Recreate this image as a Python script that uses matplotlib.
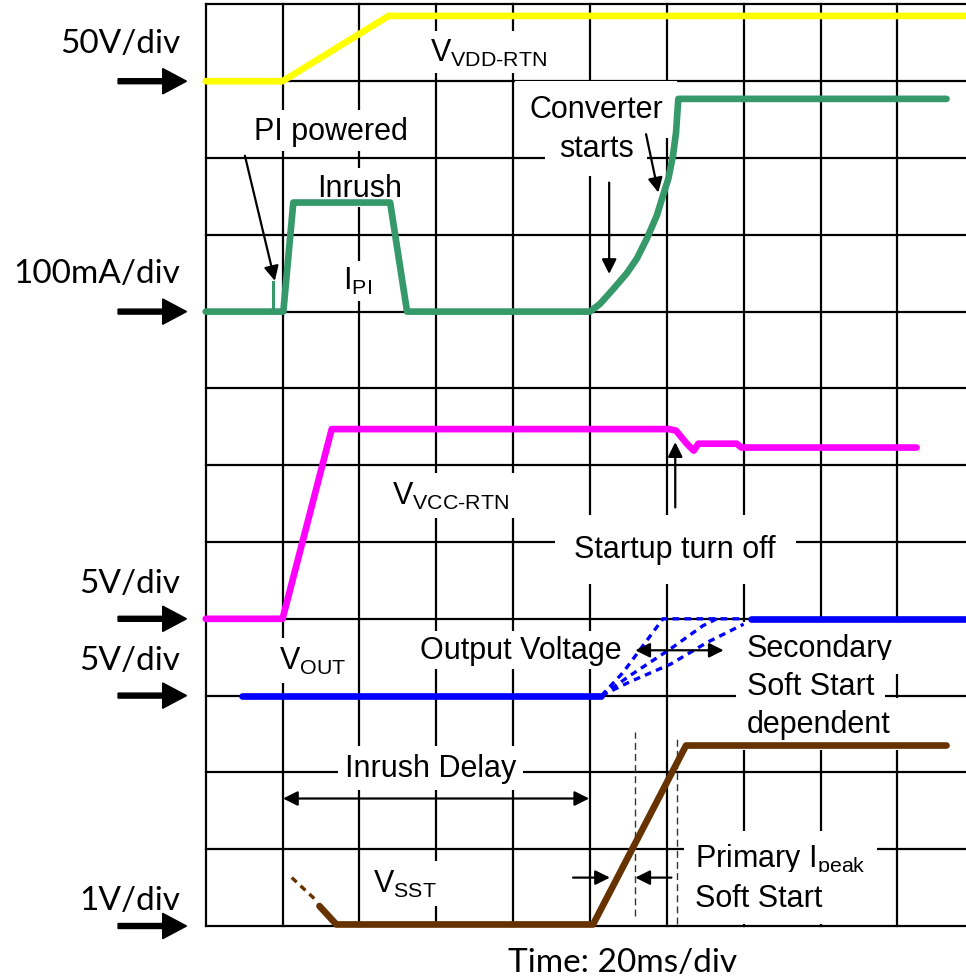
import matplotlib.pyplot as plt

# === Scope screen: 10 time divisions x 12 vertical divisions ===
n_xdiv = 10
n_ydiv = 12

# channel scale labels and their zero-level markers (in divisions)
ch_labels = ['50V/div', '100mA/div', '5V/div', '5V/div', '1V/div']
ch_zero = [11.0, 8.0, 4.0, 3.0, 0.0]
ch_label_y = [11.38, 8.385, 4.35, 3.35, 0.22]

# V_VDD-RTN (yellow)
vdd_t = [0.0, 1.0, 2.38, 10.2]
vdd_v = [11.0, 11.0, 11.85, 11.85]

# I_PI (green)
ipi_t = [0.0, 1.01, 1.14, 2.40, 2.62, 5.0, 5.13, 5.30, 5.48, 5.61, 5.74, 5.87, 5.95,
         6.02, 6.08, 6.12, 6.14, 6.15, 9.64]
ipi_v = [8.0, 8.0, 9.42, 9.42, 8.0, 8.0, 8.10, 8.29, 8.50, 8.69, 8.95, 9.25, 9.51,
         9.73, 10.03, 10.33, 10.63, 10.77, 10.77]
spike_t = [0.88, 0.88]
spike_v = [8.0, 8.39]

# V_VCC-RTN (magenta)
vcc_t = [0.0, 1.0, 1.64, 6.03, 6.12, 6.26, 6.35, 6.41, 6.91, 6.97, 9.25]
vcc_v = [4.0, 4.0, 6.47, 6.47, 6.45, 6.28, 6.19, 6.28, 6.28, 6.23, 6.23]

# V_OUT (blue): solid before / after, dashed soft-start variants
vout_t = [0.47, 5.15]
vout_v = [3.0, 3.0]
vout_end_t = [7.10, 10.2]
vout_end_v = [4.0, 4.0]
ss_fast_t = [5.15, 5.43, 5.69, 5.95, 6.99]
ss_fast_v = [3.0, 3.30, 3.65, 4.0, 4.0]
ss_mid_t = [5.15, 5.52, 6.05, 6.47, 6.65]
ss_mid_v = [3.0, 3.26, 3.61, 3.91, 4.0]
ss_slow_t = [5.15, 5.52, 6.05, 6.52, 7.0]
ss_slow_v = [3.0, 3.18, 3.41, 3.69, 3.93]

# V_SST (brown)
sst_pre_t = [1.12, 1.42]
sst_pre_v = [0.63, 0.35]
sst_t = [1.48, 1.70, 5.04, 6.25, 9.64]
sst_v = [0.26, 0.02, 0.02, 2.35, 2.35]

# primary soft start window markers
mark_t = [5.59, 6.13]
mark_lo = [0.13, 0.02]
mark_hi = [2.53, 2.46]

YELLOW = '#ffff00'
GREEN = '#35996a'
MAGENTA = '#ff00ff'
BLUE = '#0000ff'
BROWN = '#663300'

plt.rcParams['mathtext.fontset'] = 'custom'
plt.rcParams['mathtext.rm'] = 'Liberation Sans'
plt.rcParams['mathtext.it'] = 'Liberation Sans:italic'
plt.rcParams['mathtext.bf'] = 'Liberation Sans:bold'

fig = plt.figure(figsize=(9.66, 9.78), dpi=100)
ax = fig.add_axes([0, 0, 1, 1])
ax.set_xlim(-205.7 / 76.85, (966 - 205.7) / 76.85)
ax.set_ylim(-(978 - 927) / 76.8, 927 / 76.8)
ax.axis('off')

# grid
for i in range(n_xdiv + 1):
    ax.plot([i, i], [0, n_ydiv], color='black', lw=1.6, zorder=1, solid_capstyle='projecting')
for j in range(n_ydiv + 1):
    ax.plot([0, n_xdiv], [j, j], color='black', lw=1.6, zorder=1, solid_capstyle='projecting')

# traces
tr = dict(lw=4.8, solid_capstyle='round', solid_joinstyle='round', zorder=3)
ax.plot(vdd_t, vdd_v, color=YELLOW, **tr)
ax.plot(ipi_t, ipi_v, color=GREEN, **tr)
ax.plot(spike_t, spike_v, color=GREEN, lw=2.2, zorder=3)
ax.plot(vcc_t, vcc_v, color=MAGENTA, **tr)
ax.plot(vout_t, vout_v, color=BLUE, **tr)
ax.plot(vout_end_t, vout_end_v, color=BLUE, **tr)
for t, v in [(ss_fast_t, ss_fast_v), (ss_mid_t, ss_mid_v), (ss_slow_t, ss_slow_v)]:
    ax.plot(t, v, color=BLUE, lw=2.4, ls=(0, (2.0, 1.6)), zorder=3)
ax.plot(sst_pre_t, sst_pre_v, color=BROWN, lw=2.4, ls=(0, (2.0, 1.6)), zorder=3)
ax.plot(sst_t, sst_v, color=BROWN, **tr)
for t, lo, hi in zip(mark_t, mark_lo, mark_hi):
    ax.plot([t, t], [lo, hi], color='#333333', lw=1.0, ls=(0, (5, 3)), zorder=2)

# channel markers on the left
for lab, z, ly in zip(ch_labels, ch_zero, ch_label_y):
    ax.arrow(-1.14, z, 0.89, 0, width=0.065, head_width=0.33, head_length=0.31,
             length_includes_head=True, color='black', zorder=4)
    ax.text(-0.33, ly, lab, family='Lato', fontsize=24, ha='right', va='baseline')
ax.text(5.43, -0.586, 'Time: 20ms/div', family='Lato', fontsize=24, ha='center', va='baseline')


def label(x, y, s, ha='left', pad=4):
    ax.text(x, y, s, family='Liberation Sans', fontsize=22, ha=ha, va='baseline', zorder=2,
            bbox=dict(facecolor='white', edgecolor='none', pad=pad))


label(2.92, 11.27, r'V$_{\text{VDD-RTN}}$', pad=4)
label(1.63, 10.25, 'PI powered', ha='center', pad=4)
label(2.0, 9.51, 'Inrush', ha='center', pad=3)
label(1.79, 8.29, r'I$_{\text{PI}}$', pad=3)
label(5.08, 10.53, 'Converter', ha='center', pad=10)
label(5.08, 10.03, 'starts', ha='center', pad=10)
label(2.42, 5.49, r'V$_{\text{VCC-RTN}}$', pad=5)
label(6.11, 4.80, 'Startup turn off', ha='center', pad=14)
label(0.96, 3.35, r'V$_{\text{OUT}}$', pad=5)
label(5.41, 3.49, 'Output Voltage', ha='right', pad=3)
label(7.04, 3.52, 'Secondary', pad=8)
label(7.04, 3.02, 'Soft Start', pad=8)
label(7.04, 2.52, 'dependent', pad=8)
label(1.81, 1.95, 'Inrush Delay', pad=5)
label(2.18, 0.44, r'V$_{\text{SST}}$', pad=5)
label(6.37, 0.78, r'Primary I$_{\text{peak}}$', pad=8)
label(6.37, 0.26, 'Soft Start', pad=8)

# annotation arrows
one = dict(arrowstyle='-|>', color='black', lw=1.6, mutation_scale=22, shrinkA=0, shrinkB=0)
two = dict(arrowstyle='<|-|>', color='black', lw=1.6, mutation_scale=22, shrinkA=0, shrinkB=0)
ax.annotate('', xy=(0.90, 8.40), xytext=(0.51, 10.03), arrowprops=one, zorder=4)
ax.annotate('', xy=(5.89, 9.55), xytext=(5.73, 10.31), arrowprops=one, zorder=4)
ax.annotate('', xy=(5.25, 8.49), xytext=(5.25, 9.68), arrowprops=one, zorder=4)
ax.annotate('', xy=(6.11, 6.30), xytext=(6.11, 5.45), arrowprops=one, zorder=4)
ax.annotate('', xy=(6.74, 3.59), xytext=(5.59, 3.59), arrowprops=two, zorder=4)
ax.annotate('', xy=(4.99, 1.66), xytext=(1.006, 1.66), arrowprops=two, zorder=4)
ax.annotate('', xy=(5.26, 0.63), xytext=(4.78, 0.63), arrowprops=one, zorder=4)
ax.annotate('', xy=(5.59, 0.63), xytext=(6.06, 0.63), arrowprops=one, zorder=4)

fig.savefig('out.png', dpi=100)
